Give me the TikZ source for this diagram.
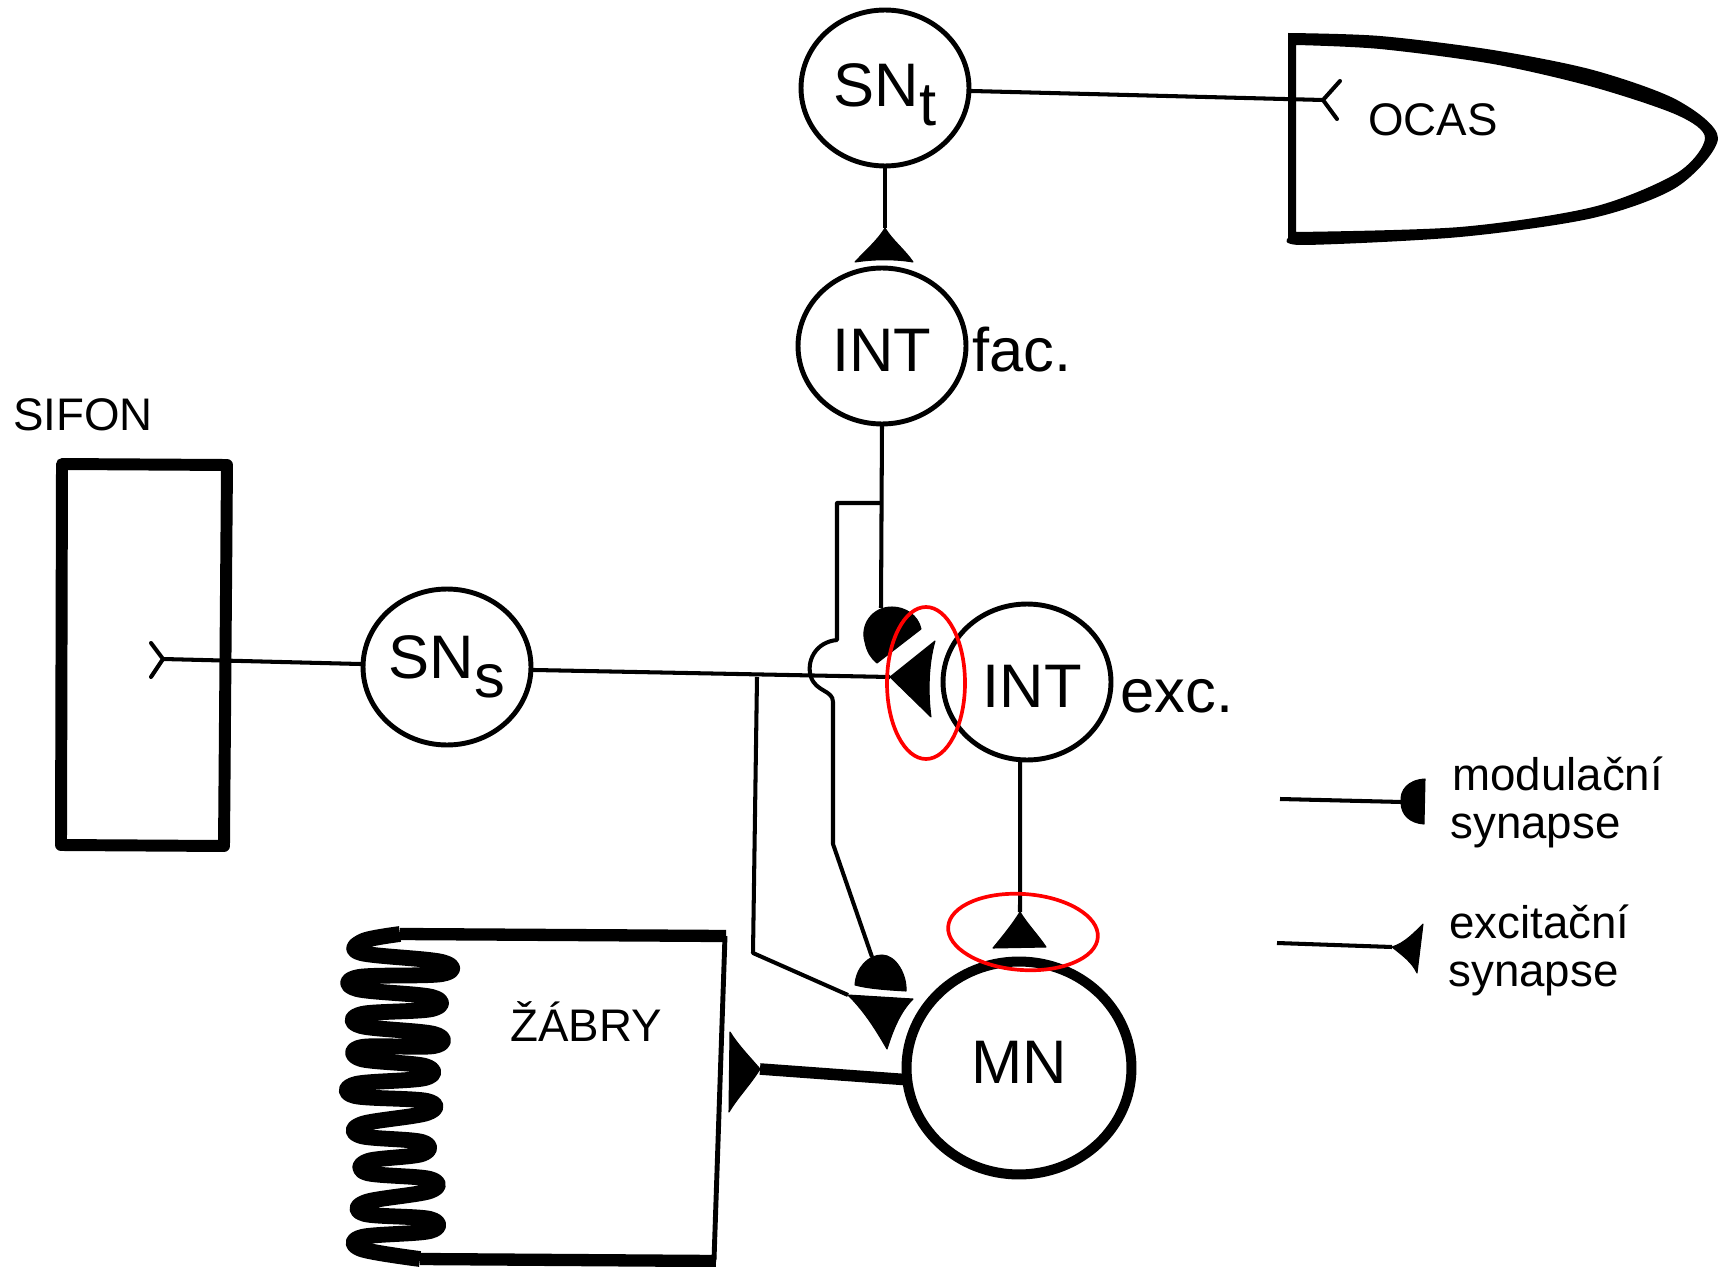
\documentclass[tikz,border=0pt]{standalone}
\usepackage{fontspec}
\setmainfont{Liberation Sans}
\usetikzlibrary{shapes.geometric}

\newcommand{\lowchar}[1]{\raisebox{-.3em}{\fontsize{35}{35}\selectfont #1}}

\tikzset{
    neuron/.style={ellipse, draw, line width=2.8pt, minimum width=3.36cm, minimum height=3.12cm, inner sep=0pt, outer sep=0pt, font=\fontsize{35}{40}\selectfont},
    motor/.style={neuron, line width=5.7pt, minimum width=4.5cm, minimum height=4.26cm},
    nerve/.style={line width=2.3pt, line join=round},
    bigtext/.style={inner sep=0pt, anchor=base west, font=\fontsize{35}{40}\selectfont},
    smalltext/.style={inner sep=0pt, anchor=base west, font=\fontsize{26}{30}\selectfont},
    synapse/.style={fill=black, draw=black, line width=.6pt, line join=round},
    ring/.style={draw=red, line width=2.1pt}
}

\begin{document}
\begin{tikzpicture}[x=.02cm, y=-.02cm]
\useasboundingbox (0,0) rectangle (1718,1267);

% neurons
\node[neuron, text depth=3pt] (SNt) at (885,88) {SN\lowchar{t}};
\node[neuron, text height=29.5pt] (INTf) at (882,346) {INT};
\node[neuron, text height=29.5pt] (INTe) at (1027,682) {\hspace{6pt}INT};
\node[neuron] (SNs) at (447,667) {SN\lowchar{s}};
\node[motor, text depth=6pt] (MN) at (1019,1068) {MN};

\node[bigtext] (fac) at (972,372) {fac.};
\node[bigtext] (exc) at (1120,712) {exc.};

% free ends
\coordinate (forkOcas) at (1323,100);
\coordinate (forkSifon) at (163,659);
\coordinate (tipFac) at (885,228);
\coordinate (tipExc) at (890,677);
\coordinate (tipMod) at (881,608);
\coordinate (tipMn) at (1020,912);
\coordinate (tipModMn) at (872,957);
\coordinate (tipExcMn) at (848,995);
\coordinate (tipGill) at (760,1069);
\coordinate (branchFac) at (881,503);
\coordinate (branchSn) at (757,677);

% OCAS
\fill[even odd rule]
    plot[smooth] coordinates {(1288,33) (1380,36) (1493,50) (1593,70) (1677,100) (1718,138) (1677,187) (1593,218) (1460,237) (1303,245) (1288,238)} -- cycle
    plot[smooth] coordinates {(1296,45) (1380,49) (1493,64) (1593,87) (1677,115) (1705,138) (1677,173) (1593,207) (1460,227) (1296,232)} -- cycle;
\node[smalltext] (ocas) at (1368,136) {OCAS};
\draw[nerve] (SNt.-2) -- (forkOcas);
\draw[nerve, line cap=round] (1340,81) -- (forkOcas) -- (1337,119);

% SIFON
\node[smalltext] (sifon) at (13,430) {SIFON};
\draw[line width=6.8pt, line join=round] (62,464) -- (227,465) -- (224,846) -- (61,845) -- cycle;
\draw[nerve] (SNs.178) -- (forkSifon);
\draw[nerve, line cap=round] (151,643) -- (forkSifon) -- (151,677);

% ZABRY
\node[smalltext] (zabry) at (510,1041) {ŽÁBRY};
\draw[line width=2.8pt] (725,936) -- (714,1260);
\draw[line width=7pt, line join=round] (726,936) -- (400,934);
\draw[line width=9pt, line join=round] plot[smooth, tension=.6] coordinates {(400,934) (363,941) (361,953)
    (442,962) (442,974) (359,977) (357,989)
    (432,997) (432,1009) (362,1014) (361,1026)
    (434,1034) (434,1046) (362,1047) (361,1059)
    (425,1066) (425,1078) (356,1084) (355,1096)
    (427,1101) (427,1113) (362,1124) (361,1136)
    (422,1142) (422,1154) (368,1161) (367,1173)
    (430,1179) (430,1191) (366,1202) (365,1214)
    (430,1219) (430,1231) (362,1237) (361,1249) (420,1259)};
\draw[line width=7pt] (420,1259) -- (716,1261);

% connectors
\draw[nerve] (SNt.south) -- (tipFac);
\draw[nerve] (SNs.-2) -- (tipExc);
\draw[nerve] (INTf.south) -- (tipMod);
\draw[nerve] (branchFac) -- (837,503) -- (837,640) .. controls (815,642) and (806,662) .. (811,677)
    .. controls (816,692) and (833,690) .. (833,702) -- (833,844) -- (tipModMn);
\draw[nerve] (branchSn) -- (753,953) -- (tipExcMn);
\draw[nerve] (INTe.265) -- (tipMn);
\draw[line width=6.6pt] (MN.186) -- (tipGill);

% synapses
\filldraw[synapse] (tipFac) .. controls (878,240) and (866,250) .. (855,262) .. controls (875,259) and (895,259) .. (913,262)
    .. controls (905,250) and (892,240) .. (tipFac) -- cycle;
\filldraw[synapse] (tipExc) -- (935,641) .. controls (928,665) and (928,695) .. (931,717) -- cycle;
\filldraw[synapse] (877,663) -- (921,629) .. controls (918,615) and (905,607) .. (892,607)
    .. controls (872,607) and (860,625) .. (865,642) .. controls (867,652) and (871,658) .. (877,663) -- cycle;
\filldraw[synapse] (tipMn) .. controls (1012,925) and (1002,937) .. (993,948) -- (1046,947)
    .. controls (1038,935) and (1028,925) .. (tipMn) -- cycle;
\filldraw[synapse] (855,985) .. controls (856,968) and (868,955) .. (882,955) .. controls (896,955) and (907,975) .. (906,991)
    .. controls (890,990) and (870,989) .. (855,985) -- cycle;
\filldraw[synapse] (tipExcMn) -- (913,999) .. controls (900,1012) and (893,1030) .. (887,1049)
    .. controls (876,1030) and (865,1012) .. (tipExcMn) -- cycle;
\filldraw[synapse] (tipGill) .. controls (748,1055) and (738,1045) .. (730,1032) -- (729,1112)
    .. controls (738,1097) and (750,1085) .. (tipGill) -- cycle;

% legend
\coordinate (legModA) at (1280,799);
\coordinate (legModB) at (1402,802);
\coordinate (legExcA) at (1277,943);
\coordinate (legExcB) at (1392,947);
\draw[nerve] (legModA) -- (legModB);
\draw[nerve] (legExcA) -- (legExcB);
\filldraw[synapse] (1425,779) .. controls (1408,780) and (1400,790) .. (1401,802) .. controls (1401,815) and (1410,823) .. (1424,824) -- cycle;
\filldraw[synapse] (legExcB) .. controls (1405,943) and (1415,932) .. (1423,924) -- (1417,973) .. controls (1412,962) and (1402,955) .. (legExcB) -- cycle;
\node[smalltext] (modul) at (1452,790) {modulační};
\node[smalltext] (synA) at (1450,838) {synapse};
\node[smalltext] (excit) at (1449,938) {excitační};
\node[smalltext] (synB) at (1448,986) {synapse};

% red marks
\draw[ring] (926,683) ellipse [x radius=39, y radius=76];
\draw[ring, rotate around={-4:(1023,932)}] (1023,932) ellipse [x radius=75, y radius=38];

\end{tikzpicture}
\end{document}
